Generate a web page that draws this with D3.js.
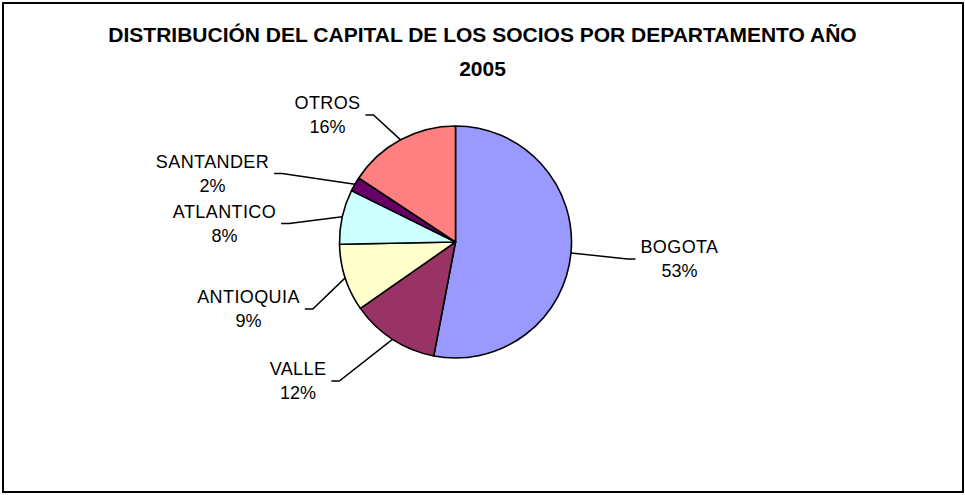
<!DOCTYPE html>
<html>
<head>
<meta charset="utf-8">
<script src="https://cdn.jsdelivr.net/npm/d3@7"></script>
<style>
  html, body { margin: 0; padding: 0; background: #fff; }
  svg { display: block; font-family: "Liberation Sans", Arial, sans-serif; }
</style>
</head>
<body>
<svg id="chart" width="965" height="495"></svg>
<script>
const titleLines = ["DISTRIBUCIÓN DEL CAPITAL DE LOS SOCIOS POR DEPARTAMENTO AÑO", "2005"];
const departments = ["BOGOTA", "VALLE", "ANTIOQUIA", "ATLANTICO", "SANTANDER", "OTROS"];
const shares = [53.0, 12.3, 9.4, 7.6, 2.0, 15.7];
const colors = ["#9999FF", "#993366", "#FFFFCC", "#CCFFFF", "#660066", "#FF8080"];

// label text position (center x, first baseline) and which side the leader joins
const labelPos = [
  [679.5, 253, "left"],
  [298, 375, "right"],
  [248.5, 303, "right"],
  [224.5, 217.5, "right"],
  [212.5, 167.5, "right"],
  [327.5, 109, "right"],
];

const cx = 455.5, cy = 242, radius = 116;
const svg = d3.select("#chart");

svg.append("rect")
  .attr("x", 3).attr("y", 3)
  .attr("width", 960).attr("height", 489)
  .attr("fill", "#fff").attr("stroke", "#000").attr("stroke-width", 2);

svg.selectAll(".title")
  .data(titleLines)
  .join("text")
  .attr("class", "title")
  .attr("x", 482.5)
  .attr("y", (d, i) => 42 + i * 34)
  .attr("text-anchor", "middle")
  .attr("font-size", 21)
  .attr("font-weight", "bold")
  .text((d) => d);

const data = departments.map((name, i) => ({ name, value: shares[i], color: colors[i], pos: labelPos[i] }));
const pie = d3.pie().value((d) => d.value).sort(null);
const arc = d3.arc().innerRadius(0).outerRadius(radius);
const arcs = pie(data);

const g = svg.append("g").attr("transform", `translate(${cx},${cy})`);

g.selectAll("path")
  .data(arcs)
  .join("path")
  .attr("d", arc)
  .attr("fill", (d) => d.data.color)
  .attr("stroke", "#000")
  .attr("stroke-width", 1.6)
  .attr("stroke-linejoin", "round");

// labels
const labels = svg.selectAll(".label")
  .data(arcs)
  .join("text")
  .attr("class", "label")
  .attr("text-anchor", "middle")
  .attr("font-size", 18)
  .attr("fill", "#000");

labels.append("tspan")
  .attr("x", (d) => d.data.pos[0])
  .attr("y", (d) => d.data.pos[1])
  .attr("letter-spacing", 0.4)
  .text((d) => d.data.name);

labels.append("tspan")
  .attr("x", (d) => d.data.pos[0])
  .attr("y", (d) => d.data.pos[1] + 24)
  .text((d) => Math.round(d.data.value) + "%");

// leader lines
labels.each(function (d) {
  const w = this.firstChild.getComputedTextLength();
  const [lx, ly, side] = d.data.pos;
  const a = (d.startAngle + d.endAngle) / 2;
  const ex = cx + Math.sin(a) * radius;
  const ey = cy - Math.cos(a) * radius;
  const y = ly + 6;
  const endX = side === "left" ? lx - w / 2 - 5 : lx + w / 2 + 5;
  const elbowX = side === "left" ? endX - 8 : endX + 8;
  svg.append("polyline")
    .attr("points", `${ex},${ey} ${elbowX},${y} ${endX},${y}`)
    .attr("fill", "none")
    .attr("stroke", "#000")
    .attr("stroke-width", 1.5);
});
</script>
</body>
</html>
